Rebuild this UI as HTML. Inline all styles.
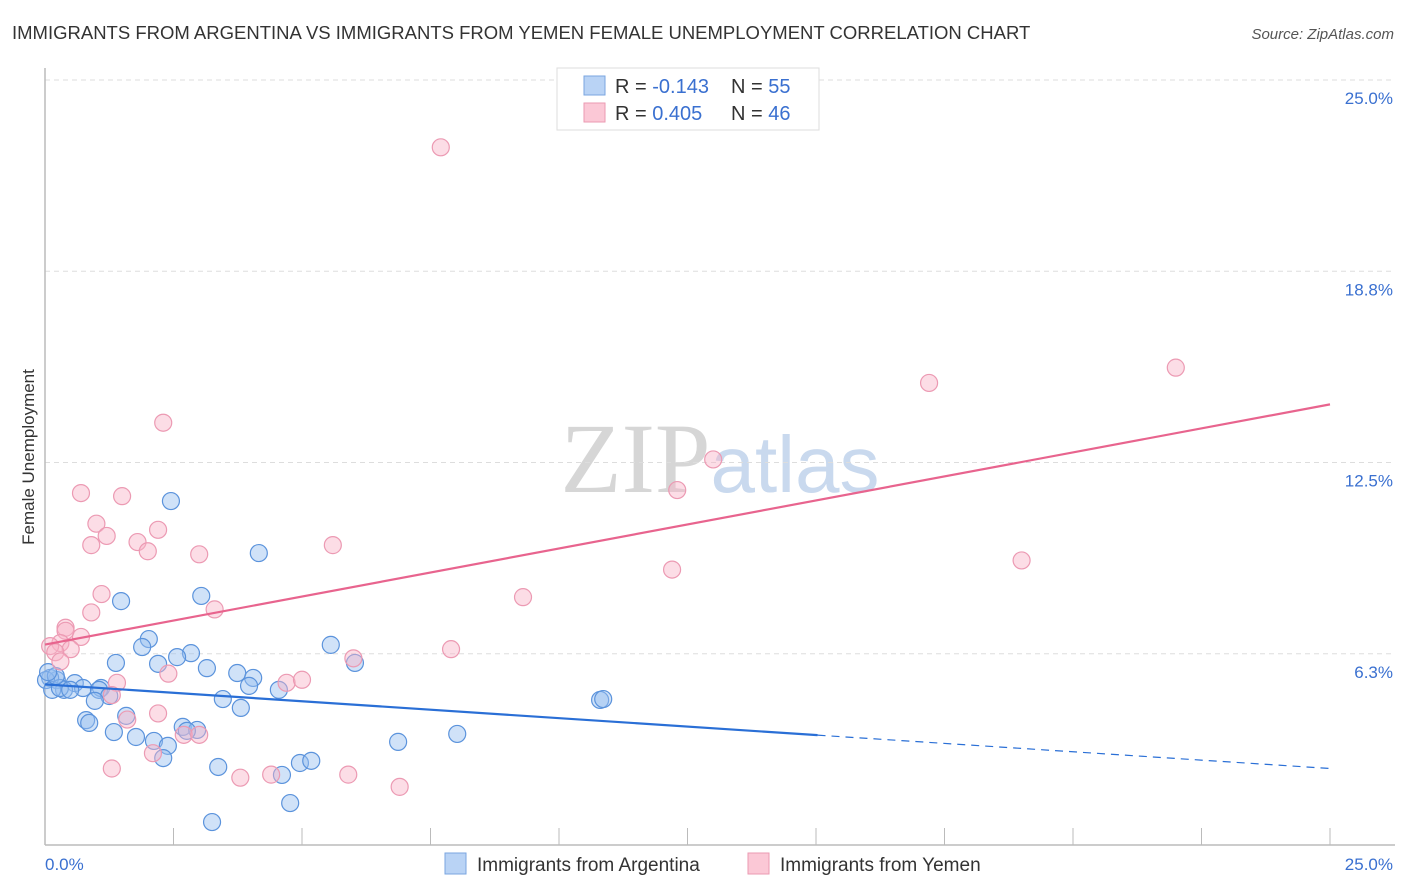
<!DOCTYPE html>
<html><head><meta charset="utf-8"><style>
body{margin:0;background:#fff;font-family:"Liberation Sans",sans-serif;}
svg{display:block}
</style></head><body>
<svg id="c" width="1406" height="892">
<text x="12" y="39" font-size="18.5" fill="#333">IMMIGRANTS FROM ARGENTINA VS IMMIGRANTS FROM YEMEN FEMALE UNEMPLOYMENT CORRELATION CHART</text>
<text x="1394" y="39" font-size="15" fill="#555" font-style="italic" text-anchor="end">Source: ZipAtlas.com</text>
<text x="0" y="0" transform="translate(34,457) rotate(-90)" font-size="17" fill="#333" text-anchor="middle">Female Unemployment</text>
<text x="720" y="492" font-size="100" fill="#ddd" text-anchor="middle" font-family="Liberation Serif,serif"><tspan fill="#d6d6d6">ZIP</tspan><tspan fill="#c9d9ee" font-family="Liberation Sans,sans-serif" font-size="80">atlas</tspan></text>
<g id="grid"></g><g id="pts"></g><g id="lines"></g>
<g>
<rect x="557" y="68" width="262" height="62" fill="#fff" stroke="#ddd"/>
<rect x="584" y="76" width="21" height="19" fill="#b9d3f5" stroke="#7aa6e0"/>
<rect x="584" y="103" width="21" height="19" fill="#fbc8d6" stroke="#eb9ab2"/>
<text x="615" y="93" font-size="20" fill="#333">R = <tspan fill="#3a70d0">-0.143</tspan><tspan x="731">N = </tspan><tspan fill="#3a70d0">55</tspan></text>
<text x="615" y="120" font-size="20" fill="#333">R = <tspan fill="#3a70d0"> 0.405</tspan><tspan x="731">N = </tspan><tspan fill="#3a70d0">46</tspan></text>
</g>
<g>
<rect x="445" y="853" width="21" height="21" fill="#b9d3f5" stroke="#7aa6e0"/>
<text x="477" y="871" font-size="19" fill="#333">Immigrants from Argentina</text>
<rect x="748" y="853" width="21" height="21" fill="#fbc8d6" stroke="#eb9ab2"/>
<text x="780" y="871" font-size="19" fill="#333">Immigrants from Yemen</text>
</g>
</svg>
<script>
const yTicks=[6.25,12.5,18.75,25];
const yTickLabels=["6.3%","12.5%","18.8%","25.0%"];
const xTickLabels=["0.0%","25.0%"];
const argX=[2.45,4.16,3.04,1.48,2.02,1.89,5.56,2.84,2.57,1.38,2.20,6.03,3.15,3.74,4.05,3.97,4.55,0.23,0.10,0.58,0.37,0.74,1.09,1.05,1.25,0.97,3.46,3.81,10.8,10.86,1.58,0.80,0.86,2.68,2.96,2.76,1.34,1.77,2.12,2.39,8.02,6.87,2.30,3.37,4.96,5.18,4.61,4.77,3.25,0.02,0.14,0.29,0.49,0.21,0.06];
const argY=[11.24,9.54,8.14,7.97,6.73,6.47,6.54,6.27,6.14,5.95,5.92,5.95,5.78,5.62,5.46,5.20,5.07,5.39,5.46,5.29,5.07,5.13,5.13,5.07,4.87,4.71,4.77,4.48,4.74,4.77,4.22,4.08,3.99,3.86,3.76,3.73,3.69,3.53,3.40,3.24,3.63,3.37,2.84,2.55,2.68,2.75,2.29,1.37,0.75,5.39,5.07,5.13,5.07,5.52,5.65];
const yemX=[7.7,22.0,17.2,2.3,13.0,0.7,1.5,12.3,1.0,2.2,1.2,0.9,1.8,2.0,5.6,3.0,19.0,12.2,1.1,9.3,3.3,0.9,0.4,0.4,0.7,0.3,0.5,0.1,0.2,7.9,6.0,2.4,1.4,4.7,5.0,1.3,1.6,2.2,2.7,3.0,2.1,1.3,3.8,4.4,5.9,6.9,0.3];
const yemY=[22.8,15.6,15.1,13.8,12.6,11.5,11.4,11.6,10.5,10.3,10.1,9.8,9.9,9.6,9.8,9.5,9.3,9.0,8.2,8.1,7.7,7.6,7.1,7.0,6.8,6.6,6.4,6.5,6.3,6.4,6.1,5.6,5.3,5.3,5.4,4.9,4.1,4.3,3.6,3.6,3.0,2.5,2.2,2.3,2.3,1.9,6.0];
const trendArg=[5.25,3.59,2.5];const trendArgX=[0,15.03,25];
const trendYem=[6.55,14.4];const trendYemX=[0,25];
const X0=45,X1=1330,Y0=845,Y1=80;
const sx=v=>X0+v/25*(X1-X0), sy=v=>Y0-v/25*(Y0-Y1);
const NS="http://www.w3.org/2000/svg";
function mk(t,a,p){const e=document.createElementNS(NS,t);for(const k in a)e.setAttribute(k,a[k]);p.appendChild(e);return e;}
const g=document.getElementById('grid');
yTicks.forEach((t,i)=>{
 const l=mk('line',{x1:X0,x2:1395,y1:sy(t),y2:sy(t),stroke:'#ddd','stroke-dasharray':'5,4'},g);
 
 
 const tx=mk('text',{x:1393,y:sy(t)+24,'font-size':17,fill:'#3a70d0','text-anchor':'end'},g);
 tx.textContent=yTickLabels[i];
 
 
});
let ax=mk('line',{x1:X0,x2:1395,y1:Y0,y2:Y0,stroke:'#bbb','stroke-width':1.5},g);


let ay=mk('line',{x1:X0,x2:X0,y1:68,y2:Y0,stroke:'#bbb','stroke-width':1.5},g);


for(let i=1;i<=10;i++){const x=sx(i*2.5);const t=mk('line',{x1:x,x2:x,y1:828,y2:Y0,stroke:'#bbb'},g);
 
 }
[[0,'start',45],[1,'end',1393]].forEach(([i,a,x])=>{const t=mk('text',{x:x,y:870,'font-size':17,fill:'#3a70d0','text-anchor':a},g);t.textContent=xTickLabels[i];
 
 });
const p=document.getElementById('pts');
argX.forEach((v,i)=>{const c=mk('circle',{cx:sx(v),cy:sy(argY[i]),r:8.5,fill:'rgba(150,190,240,0.45)',stroke:'#5b93dc','stroke-width':1.2},p);
 
 });
yemX.forEach((v,i)=>{const c=mk('circle',{cx:sx(v),cy:sy(yemY[i]),r:8.5,fill:'rgba(248,180,200,0.45)',stroke:'#ec9ab3','stroke-width':1.2},p);
 
 });
const L=document.getElementById('lines');
let a=mk('line',{x1:sx(trendArgX[0]),y1:sy(trendArg[0]),x2:sx(trendArgX[1]),y2:sy(trendArg[1]),stroke:'#2a6fd6','stroke-width':2.2},L);


let b=mk('line',{x1:sx(trendArgX[1]),y1:sy(trendArg[1]),x2:sx(trendArgX[2]),y2:sy(trendArg[2]),stroke:'#2a6fd6','stroke-width':1.2,'stroke-dasharray':'8,6'},L);


let c=mk('line',{x1:sx(trendYemX[0]),y1:sy(trendYem[0]),x2:sx(trendYemX[1]),y2:sy(trendYem[1]),stroke:'#e8648e','stroke-width':2.2},L);


</script>
</body></html>
